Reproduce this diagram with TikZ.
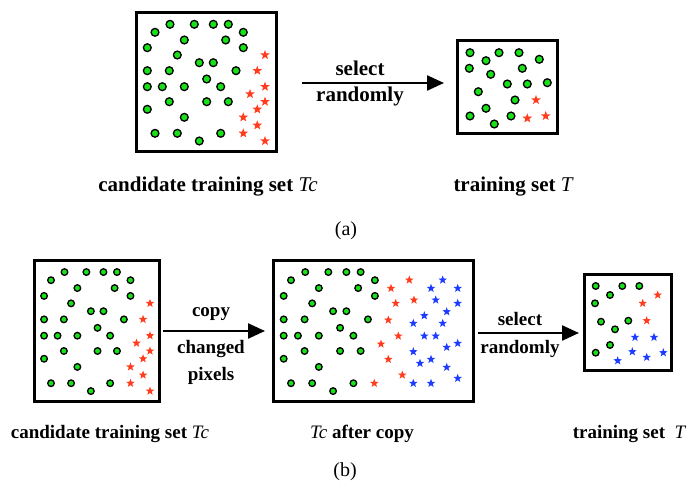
\documentclass[tikz,border=0pt]{standalone}
\usepackage{fontspec}
\setmainfont{Liberation Serif}
\usetikzlibrary{shapes.geometric}
\usetikzlibrary{arrows.meta}

\definecolor{dotgreen}{RGB}{25,225,25}
\definecolor{starred}{RGB}{255,60,30}
\definecolor{starblue}{RGB}{30,60,255}

% the pattern of the candidate set, relative to the box corner
\newcommand{\greendots}{%
  \foreach \px/\py in {35/12.3, 59.3/12.3, 78.3/12.3, 93.3/12.3, 20/20.3, 108.3/20.3,
                       49.3/28, 90.7/28, 12.3/35.7, 108.3/35.7, 42.3/43, 64.3/50.7,
                       78.3/50.7, 12.3/58.7, 34.3/58.7, 101/58.7, 71.7/67, 12.3/74.7,
                       27.3/74.7, 49.3/74.7, 85.7/74.7, 34.3/89.7, 71.7/89.7, 93.3/89.7,
                       12.3/97.3, 49.3/105.3, 20/121.3, 42.3/121.3, 85.7/121.3, 64.3/129}
    {\node[dot] at (\px,\py) {};}}
\newcommand{\redstars}{%
  \foreach \px/\py in {130/43, 122.3/58.7, 130/74.7, 115/82, 130/89.7, 122.3/97.3,
                       108.3/105.3, 122.3/113.3, 108.3/121.3, 130/129}
    {\node[redstar] at (\px,\py) {};}}

\begin{document}
\begin{tikzpicture}[x=1pt, y=-1pt,
    dot/.style={circle, draw=black, fill=dotgreen, line width=1.3pt, inner sep=0pt, minimum size=7.8pt},
    redstar/.style={star, star points=5, star point ratio=2.4, fill=starred, inner sep=0pt, minimum size=10pt},
    bluestar/.style={redstar, fill=starblue},
    setbox/.style={draw, line width=3pt, inner sep=0pt},
    flow/.style={line width=2.4pt, -{Triangle[length=17pt,width=15pt]}},
    labela/.style={font=\fontsize{21}{24}\selectfont\bfseries, anchor=base, inner sep=0pt},
    labelb/.style={font=\fontsize{19}{22}\selectfont\bfseries, anchor=base, inner sep=0pt},
    sublabel/.style={font=\fontsize{20}{24}\selectfont, anchor=base, inner sep=0pt}
  ]
  \useasboundingbox (0,0) rectangle (691,484);

  % (a)
  \node[setbox, minimum width=140pt, minimum height=139pt] (tcA) at (206,82.2) {};
  \begin{scope}[shift={(135,12)}]
    \greendots
    \redstars
  \end{scope}

  \node[setbox, minimum width=100pt, minimum height=93.3pt] (tA) at (507.7,86.7) {};
  \foreach \px/\py in {470/52.7, 499/52.7, 519/52.7, 486/60.7, 539.3/59.3, 469.3/68.3,
                       522.3/68.3, 490.7/74.3, 507.3/84, 527.3/84, 547.3/82.7, 478.3/91.7,
                       515/100, 486/108.3, 470/116, 511/116, 494.3/124}
    {\node[dot] at (\px,\py) {};}
  \foreach \px/\py in {536/100, 527.3/118.3, 545.7/116}
    {\node[redstar] at (\px,\py) {};}

  \coordinate (selAfrom) at (302,83);
  \coordinate (selAto) at (444,83);
  \draw[flow] (selAfrom) -- (selAto);
  \node[labela] (selA1) at (360,76) {select};
  \node[labela] (selA2) at (360,101.5) {randomly};

  \node[labela] (capTcA) at (208,192) {candidate training set {\mdseries\itshape Tc}};
  \node[labela] (capTA) at (513,192) {training set {\mdseries\itshape T}};
  \node[sublabel] (subA) at (346,235) {(a)};

  % (b)
  \node[setbox, minimum width=125pt, minimum height=141.5pt] (tcB) at (96.8,330.8) {};
  \begin{scope}[shift={(33,259.5)}, xscale=0.9, yscale=1.02,
      dot/.append style={minimum size=6.6pt}, redstar/.append style={minimum size=9pt}]
    \greendots
    \redstars
  \end{scope}

  \node[setbox, minimum width=199.7pt, minimum height=140.5pt] (copyB) at (373.2,331.2) {};
  \begin{scope}[shift={(272,259.5)}, xscale=0.95, yscale=1.02,
      dot/.append style={minimum size=6.6pt}]
    \greendots
  \end{scope}
  \foreach \px/\py in {409.3/280, 391/288.3, 414/300, 395.7/303.3, 388.3/320, 398.3/336,
                       381/344, 388.3/359.3, 402.3/375, 374.3/383.3}
    {\node[redstar, minimum size=9pt] at (\px,\py) {};}
  \foreach \px/\py in {442.7/280, 431/288.3, 457.7/288.3, 435.7/300, 457.7/303.3, 446.7/311.7,
                       424.3/315.7, 413.3/323.3, 442.7/323.3, 424.3/336, 435.7/336, 457.7/343.3,
                       446.7/347.3, 413.3/351.7, 431/359.3, 420/363.3, 446.7/367.3, 457.7/378.3,
                       413.3/383.3, 431/383.3}
    {\node[bluestar, minimum size=9pt] at (\px,\py) {};}

  \node[setbox, minimum width=87pt, minimum height=96.4pt] (tB) at (628.2,322.5) {};
  \foreach \px/\py in {595.7/286, 622.3/286, 639.3/286, 610/295, 595/303.3, 601/321.7,
                       628.3/320.7, 615/329.3, 610/345, 595.7/352.7}
    {\node[dot, minimum size=6.6pt] at (\px,\py) {};}
  \foreach \px/\py in {657.7/295, 642.7/303.3, 646.7/320.7}
    {\node[redstar, minimum size=9pt] at (\px,\py) {};}
  \foreach \px/\py in {635/337.3, 654/337.3, 632.3/351.7, 646.7/357.3, 663.3/352.7, 617.7/360.7}
    {\node[bluestar, minimum size=9pt] at (\px,\py) {};}

  \coordinate (copyfrom) at (163,331);
  \coordinate (copyto) at (265,331);
  \draw[flow] (copyfrom) -- (copyto);
  \node[labelb] (copy1) at (211,316.7) {copy};
  \node[labelb] (copy2) at (211,353.3) {changed};
  \node[labelb] (copy3) at (211,380.7) {pixels};

  \coordinate (selBfrom) at (478,333);
  \coordinate (selBto) at (579,333);
  \draw[flow] (selBfrom) -- (selBto);
  \node[labelb] (selB1) at (520,325.7) {select};
  \node[labelb] (selB2) at (520,353.3) {randomly};

  \node[labelb] (capTcB) at (110,438) {candidate training set {\mdseries\itshape Tc}};
  \node[labelb] (capCopyB) at (362,438) {{\mdseries\itshape Tc} after copy};
  \node[labelb] (capTB) at (629,438) {training set\ \ {\mdseries\itshape T}};
  \node[sublabel] (subB) at (345,476) {(b)};
\end{tikzpicture}
\end{document}
